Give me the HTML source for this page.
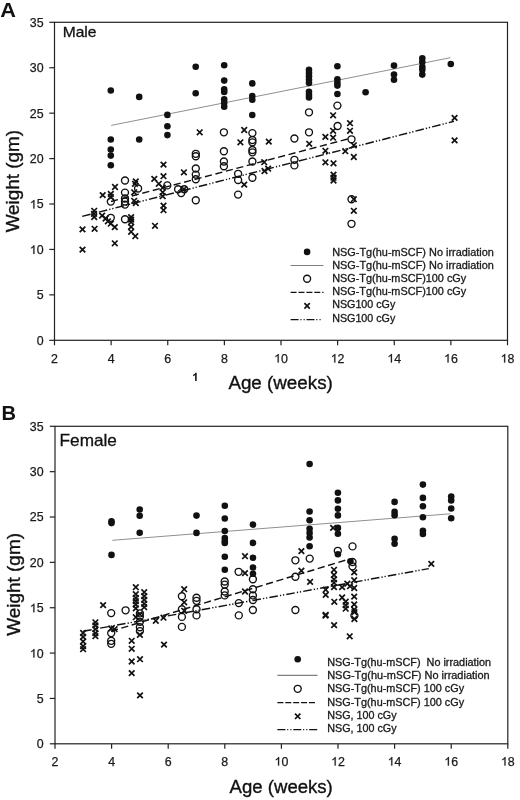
<!DOCTYPE html>
<html><head><meta charset="utf-8"><title>Weight vs Age</title><style>
html,body{margin:0;padding:0;background:#fff;}
body{width:520px;height:800px;overflow:hidden;}
svg{display:block;will-change:transform;}
text{font-family:"Liberation Sans",sans-serif;fill:#1a1a1a;}
.tk{font-size:12.4px;stroke:#1a1a1a;stroke-width:0.25px;}
.tkp{fill:#1a1a1a;stroke:#1a1a1a;stroke-width:40px;}
.lt{font-size:20px;font-weight:bold;fill:#111;}
.sx{font-size:15px;fill:#111;stroke:#111;stroke-width:0.3px;}
.al{font-size:18.8px;fill:#111;stroke:#111;stroke-width:0.35px;}
.lg{font-size:10.2px;stroke:#1a1a1a;stroke-width:0.3px;}
.one{font-size:11.5px;font-weight:bold;fill:#111;}
</style></head><body>
<svg width="520" height="800" viewBox="0 0 520 800">
<rect x="54.5" y="22.3" width="453.0" height="318.0" fill="none" stroke="#222" stroke-width="1.2"/>
<line x1="49.3" y1="340.30" x2="54.5" y2="340.30" stroke="#222" stroke-width="1.2"/>
<text class="tk" x="36.70" y="344.75">0</text>
<line x1="49.3" y1="294.87" x2="54.5" y2="294.87" stroke="#222" stroke-width="1.2"/>
<text class="tk" x="36.70" y="299.32">5</text>
<line x1="49.3" y1="249.44" x2="54.5" y2="249.44" stroke="#222" stroke-width="1.2"/>
<path d="M763 0H583V1147Q518 1085 412 1023T223 930V1104Q374 1175 487 1276T647 1472H763Z" transform="translate(29.81 253.89) scale(0.00605 -0.00580)" class="tkp"/>
<text class="tk" x="36.70" y="253.89">0</text>
<line x1="49.3" y1="204.01" x2="54.5" y2="204.01" stroke="#222" stroke-width="1.2"/>
<path d="M763 0H583V1147Q518 1085 412 1023T223 930V1104Q374 1175 487 1276T647 1472H763Z" transform="translate(29.81 208.46) scale(0.00605 -0.00580)" class="tkp"/>
<text class="tk" x="36.70" y="208.46">5</text>
<line x1="49.3" y1="158.59" x2="54.5" y2="158.59" stroke="#222" stroke-width="1.2"/>
<text class="tk" x="29.81" y="163.04">2</text>
<text class="tk" x="36.70" y="163.04">0</text>
<line x1="49.3" y1="113.16" x2="54.5" y2="113.16" stroke="#222" stroke-width="1.2"/>
<text class="tk" x="29.81" y="117.61">2</text>
<text class="tk" x="36.70" y="117.61">5</text>
<line x1="49.3" y1="67.73" x2="54.5" y2="67.73" stroke="#222" stroke-width="1.2"/>
<text class="tk" x="29.81" y="72.18">3</text>
<text class="tk" x="36.70" y="72.18">0</text>
<line x1="49.3" y1="22.30" x2="54.5" y2="22.30" stroke="#222" stroke-width="1.2"/>
<text class="tk" x="29.81" y="26.75">3</text>
<text class="tk" x="36.70" y="26.75">5</text>
<line x1="54.50" y1="340.3" x2="54.50" y2="345.3" stroke="#222" stroke-width="1.2"/>
<text class="tk" x="51.05" y="362.50">2</text>
<line x1="111.12" y1="340.3" x2="111.12" y2="345.3" stroke="#222" stroke-width="1.2"/>
<text class="tk" x="107.68" y="362.50">4</text>
<line x1="167.75" y1="340.3" x2="167.75" y2="345.3" stroke="#222" stroke-width="1.2"/>
<text class="tk" x="164.30" y="362.50">6</text>
<line x1="224.38" y1="340.3" x2="224.38" y2="345.3" stroke="#222" stroke-width="1.2"/>
<text class="tk" x="220.93" y="362.50">8</text>
<line x1="281.00" y1="340.3" x2="281.00" y2="345.3" stroke="#222" stroke-width="1.2"/>
<path d="M763 0H583V1147Q518 1085 412 1023T223 930V1104Q374 1175 487 1276T647 1472H763Z" transform="translate(274.10 362.50) scale(0.00605 -0.00580)" class="tkp"/>
<text class="tk" x="281.00" y="362.50">0</text>
<line x1="337.62" y1="340.3" x2="337.62" y2="345.3" stroke="#222" stroke-width="1.2"/>
<path d="M763 0H583V1147Q518 1085 412 1023T223 930V1104Q374 1175 487 1276T647 1472H763Z" transform="translate(330.73 362.50) scale(0.00605 -0.00580)" class="tkp"/>
<text class="tk" x="337.62" y="362.50">2</text>
<line x1="394.25" y1="340.3" x2="394.25" y2="345.3" stroke="#222" stroke-width="1.2"/>
<path d="M763 0H583V1147Q518 1085 412 1023T223 930V1104Q374 1175 487 1276T647 1472H763Z" transform="translate(387.35 362.50) scale(0.00605 -0.00580)" class="tkp"/>
<text class="tk" x="394.25" y="362.50">4</text>
<line x1="450.88" y1="340.3" x2="450.88" y2="345.3" stroke="#222" stroke-width="1.2"/>
<path d="M763 0H583V1147Q518 1085 412 1023T223 930V1104Q374 1175 487 1276T647 1472H763Z" transform="translate(443.98 362.50) scale(0.00605 -0.00580)" class="tkp"/>
<text class="tk" x="450.88" y="362.50">6</text>
<line x1="507.50" y1="340.3" x2="507.50" y2="345.3" stroke="#222" stroke-width="1.2"/>
<path d="M763 0H583V1147Q518 1085 412 1023T223 930V1104Q374 1175 487 1276T647 1472H763Z" transform="translate(500.60 362.50) scale(0.00605 -0.00580)" class="tkp"/>
<text class="tk" x="507.50" y="362.50">8</text>
<text id="Alet" class="lt" textLength="15.70" lengthAdjust="spacingAndGlyphs" x="0.20" y="17.10" xml:space="preserve">A</text>
<text id="Asex" class="sx" textLength="33.79" lengthAdjust="spacingAndGlyphs" x="62.70" y="37.00" xml:space="preserve">Male</text>
<text id="Aylab" class="al" text-anchor="middle" textLength="102.35" lengthAdjust="spacingAndGlyphs" transform="translate(18.60 181.20) rotate(-90)" xml:space="preserve">Weight (gm)</text>
<text id="Axlab" class="al" textLength="104.42" lengthAdjust="spacingAndGlyphs" x="228.40" y="388.80" xml:space="preserve">Age (weeks)</text>
<path d="M856 0H575V1059Q421 915 212 846V1101Q322 1137 451 1237T628 1469H856Z" transform="translate(191.9 380.9) scale(0.00558 -0.00558)" fill="#111"/>
<line x1="111.2" y1="125.4" x2="450.4" y2="57.7" stroke="#8f8f8f" stroke-width="1.0"/>
<line x1="111.0" y1="201.5" x2="348.1" y2="138.9" stroke="#111" stroke-width="1.45" stroke-dasharray="7.2 3.6"/>
<line x1="82.2" y1="216.4" x2="454.0" y2="121.3" stroke="#111" stroke-width="1.45" stroke-dasharray="8.6 2.1 1.3 1.8 1.3 2.1"/>
<circle cx="110.8" cy="90.5" r="3.3" fill="#111"/>
<circle cx="110.8" cy="139.5" r="3.3" fill="#111"/>
<circle cx="110.8" cy="149.5" r="3.3" fill="#111"/>
<circle cx="110.8" cy="155.6" r="3.3" fill="#111"/>
<circle cx="110.8" cy="165.2" r="3.3" fill="#111"/>
<circle cx="139.2" cy="96.9" r="3.3" fill="#111"/>
<circle cx="139.2" cy="139.5" r="3.3" fill="#111"/>
<circle cx="167.4" cy="114.9" r="3.3" fill="#111"/>
<circle cx="167.4" cy="126.2" r="3.3" fill="#111"/>
<circle cx="167.4" cy="135.1" r="3.3" fill="#111"/>
<circle cx="195.7" cy="66.8" r="3.3" fill="#111"/>
<circle cx="195.7" cy="93.2" r="3.3" fill="#111"/>
<circle cx="224.2" cy="65.2" r="3.3" fill="#111"/>
<circle cx="224.2" cy="80.6" r="3.3" fill="#111"/>
<circle cx="224.2" cy="89.4" r="3.3" fill="#111"/>
<circle cx="224.2" cy="91.9" r="3.3" fill="#111"/>
<circle cx="224.2" cy="99.4" r="3.3" fill="#111"/>
<circle cx="224.2" cy="102.9" r="3.3" fill="#111"/>
<circle cx="224.2" cy="106.7" r="3.3" fill="#111"/>
<circle cx="252.3" cy="83.4" r="3.3" fill="#111"/>
<circle cx="252.3" cy="96.0" r="3.3" fill="#111"/>
<circle cx="252.3" cy="99.8" r="3.3" fill="#111"/>
<circle cx="252.3" cy="115.0" r="3.3" fill="#111"/>
<circle cx="309.0" cy="69.8" r="3.3" fill="#111"/>
<circle cx="309.0" cy="72.9" r="3.3" fill="#111"/>
<circle cx="309.0" cy="76.3" r="3.3" fill="#111"/>
<circle cx="309.0" cy="79.8" r="3.3" fill="#111"/>
<circle cx="309.0" cy="83.0" r="3.3" fill="#111"/>
<circle cx="309.0" cy="91.7" r="3.3" fill="#111"/>
<circle cx="309.0" cy="94.8" r="3.3" fill="#111"/>
<circle cx="309.0" cy="97.5" r="3.3" fill="#111"/>
<circle cx="337.4" cy="66.2" r="3.3" fill="#111"/>
<circle cx="337.4" cy="79.2" r="3.3" fill="#111"/>
<circle cx="337.4" cy="82.7" r="3.3" fill="#111"/>
<circle cx="337.4" cy="85.6" r="3.3" fill="#111"/>
<circle cx="337.4" cy="94.0" r="3.3" fill="#111"/>
<circle cx="365.6" cy="92.3" r="3.3" fill="#111"/>
<circle cx="394.0" cy="65.6" r="3.3" fill="#111"/>
<circle cx="394.0" cy="74.6" r="3.3" fill="#111"/>
<circle cx="394.0" cy="79.8" r="3.3" fill="#111"/>
<circle cx="422.3" cy="58.3" r="3.3" fill="#111"/>
<circle cx="422.3" cy="62.1" r="3.3" fill="#111"/>
<circle cx="422.3" cy="66.9" r="3.3" fill="#111"/>
<circle cx="422.3" cy="69.8" r="3.3" fill="#111"/>
<circle cx="422.3" cy="74.6" r="3.3" fill="#111"/>
<circle cx="450.8" cy="64.0" r="3.3" fill="#111"/>
<circle cx="110.8" cy="201.6" r="3.5" fill="none" stroke="#111" stroke-width="1.35"/>
<circle cx="110.8" cy="217.8" r="3.5" fill="none" stroke="#111" stroke-width="1.35"/>
<circle cx="125.0" cy="180.5" r="3.5" fill="none" stroke="#111" stroke-width="1.35"/>
<circle cx="125.0" cy="192.6" r="3.5" fill="none" stroke="#111" stroke-width="1.35"/>
<circle cx="125.0" cy="198.5" r="3.5" fill="none" stroke="#111" stroke-width="1.35"/>
<circle cx="125.0" cy="201.5" r="3.5" fill="none" stroke="#111" stroke-width="1.35"/>
<circle cx="125.0" cy="204.6" r="3.5" fill="none" stroke="#111" stroke-width="1.35"/>
<circle cx="125.0" cy="219.2" r="3.5" fill="none" stroke="#111" stroke-width="1.35"/>
<circle cx="138.1" cy="188.5" r="3.5" fill="none" stroke="#111" stroke-width="1.35"/>
<circle cx="167.3" cy="185.4" r="3.5" fill="none" stroke="#111" stroke-width="1.35"/>
<circle cx="178.1" cy="189.2" r="3.5" fill="none" stroke="#111" stroke-width="1.35"/>
<circle cx="181.2" cy="193.1" r="3.5" fill="none" stroke="#111" stroke-width="1.35"/>
<circle cx="184.2" cy="189.2" r="3.5" fill="none" stroke="#111" stroke-width="1.35"/>
<circle cx="195.8" cy="153.8" r="3.5" fill="none" stroke="#111" stroke-width="1.35"/>
<circle cx="195.8" cy="156.2" r="3.5" fill="none" stroke="#111" stroke-width="1.35"/>
<circle cx="195.8" cy="168.5" r="3.5" fill="none" stroke="#111" stroke-width="1.35"/>
<circle cx="195.8" cy="174.6" r="3.5" fill="none" stroke="#111" stroke-width="1.35"/>
<circle cx="195.8" cy="179.2" r="3.5" fill="none" stroke="#111" stroke-width="1.35"/>
<circle cx="195.8" cy="200.2" r="3.5" fill="none" stroke="#111" stroke-width="1.35"/>
<circle cx="223.9" cy="132.3" r="3.5" fill="none" stroke="#111" stroke-width="1.35"/>
<circle cx="223.9" cy="151.2" r="3.5" fill="none" stroke="#111" stroke-width="1.35"/>
<circle cx="223.9" cy="161.5" r="3.5" fill="none" stroke="#111" stroke-width="1.35"/>
<circle cx="223.9" cy="166.2" r="3.5" fill="none" stroke="#111" stroke-width="1.35"/>
<circle cx="238.1" cy="173.8" r="3.5" fill="none" stroke="#111" stroke-width="1.35"/>
<circle cx="238.1" cy="180.0" r="3.5" fill="none" stroke="#111" stroke-width="1.35"/>
<circle cx="238.1" cy="194.6" r="3.5" fill="none" stroke="#111" stroke-width="1.35"/>
<circle cx="252.4" cy="133.1" r="3.5" fill="none" stroke="#111" stroke-width="1.35"/>
<circle cx="252.4" cy="140.0" r="3.5" fill="none" stroke="#111" stroke-width="1.35"/>
<circle cx="252.4" cy="142.3" r="3.5" fill="none" stroke="#111" stroke-width="1.35"/>
<circle cx="252.4" cy="150.0" r="3.5" fill="none" stroke="#111" stroke-width="1.35"/>
<circle cx="252.4" cy="152.3" r="3.5" fill="none" stroke="#111" stroke-width="1.35"/>
<circle cx="252.4" cy="161.5" r="3.5" fill="none" stroke="#111" stroke-width="1.35"/>
<circle cx="252.4" cy="177.7" r="3.5" fill="none" stroke="#111" stroke-width="1.35"/>
<circle cx="294.4" cy="138.5" r="3.5" fill="none" stroke="#111" stroke-width="1.35"/>
<circle cx="294.4" cy="159.8" r="3.5" fill="none" stroke="#111" stroke-width="1.35"/>
<circle cx="294.4" cy="165.4" r="3.5" fill="none" stroke="#111" stroke-width="1.35"/>
<circle cx="309.0" cy="112.3" r="3.5" fill="none" stroke="#111" stroke-width="1.35"/>
<circle cx="309.0" cy="132.3" r="3.5" fill="none" stroke="#111" stroke-width="1.35"/>
<circle cx="337.4" cy="105.6" r="3.5" fill="none" stroke="#111" stroke-width="1.35"/>
<circle cx="337.6" cy="126.0" r="3.5" fill="none" stroke="#111" stroke-width="1.35"/>
<circle cx="351.5" cy="139.3" r="3.5" fill="none" stroke="#111" stroke-width="1.35"/>
<circle cx="351.5" cy="199.2" r="3.5" fill="none" stroke="#111" stroke-width="1.35"/>
<circle cx="351.5" cy="223.8" r="3.5" fill="none" stroke="#111" stroke-width="1.35"/>
<path d="M79.7 226.6L85.3 232.2M79.7 232.2L85.3 226.6" stroke="#111" stroke-width="1.7" fill="none"/>
<path d="M79.7 246.8L85.3 252.4M79.7 252.4L85.3 246.8" stroke="#111" stroke-width="1.7" fill="none"/>
<path d="M91.4 208.0L97.0 213.6M91.4 213.6L97.0 208.0" stroke="#111" stroke-width="1.7" fill="none"/>
<path d="M91.2 211.0L96.8 216.6M91.2 216.6L96.8 211.0" stroke="#111" stroke-width="1.7" fill="none"/>
<path d="M91.4 214.2L97.0 219.8M91.4 219.8L97.0 214.2" stroke="#111" stroke-width="1.7" fill="none"/>
<path d="M91.8 226.0L97.4 231.6M91.8 231.6L97.4 226.0" stroke="#111" stroke-width="1.7" fill="none"/>
<path d="M99.9 192.3L105.5 197.9M99.9 197.9L105.5 192.3" stroke="#111" stroke-width="1.7" fill="none"/>
<path d="M99.3 212.8L104.9 218.4M99.3 218.4L104.9 212.8" stroke="#111" stroke-width="1.7" fill="none"/>
<path d="M102.8 215.7L108.4 221.3M102.8 221.3L108.4 215.7" stroke="#111" stroke-width="1.7" fill="none"/>
<path d="M105.1 218.5L110.7 224.1M105.1 224.1L110.7 218.5" stroke="#111" stroke-width="1.7" fill="none"/>
<path d="M108.0 220.9L113.6 226.5M108.0 226.5L113.6 220.9" stroke="#111" stroke-width="1.7" fill="none"/>
<path d="M108.0 191.2L113.6 196.8M108.0 196.8L113.6 191.2" stroke="#111" stroke-width="1.7" fill="none"/>
<path d="M108.0 194.2L113.6 199.8M108.0 199.8L113.6 194.2" stroke="#111" stroke-width="1.7" fill="none"/>
<path d="M112.2 184.2L117.8 189.8M112.2 189.8L117.8 184.2" stroke="#111" stroke-width="1.7" fill="none"/>
<path d="M112.0 224.3L117.6 229.9M112.0 229.9L117.6 224.3" stroke="#111" stroke-width="1.7" fill="none"/>
<path d="M112.0 240.5L117.6 246.1M112.0 246.1L117.6 240.5" stroke="#111" stroke-width="1.7" fill="none"/>
<path d="M128.3 214.3L133.9 219.9M128.3 219.9L133.9 214.3" stroke="#111" stroke-width="1.7" fill="none"/>
<path d="M128.3 216.8L133.9 222.4M128.3 222.4L133.9 216.8" stroke="#111" stroke-width="1.7" fill="none"/>
<path d="M128.3 219.4L133.9 225.0M128.3 225.0L133.9 219.4" stroke="#111" stroke-width="1.7" fill="none"/>
<path d="M128.3 224.1L133.9 229.7M128.3 229.7L133.9 224.1" stroke="#111" stroke-width="1.7" fill="none"/>
<path d="M128.3 229.0L133.9 234.6M128.3 234.6L133.9 229.0" stroke="#111" stroke-width="1.7" fill="none"/>
<path d="M132.5 233.4L138.1 239.0M132.5 239.0L138.1 233.4" stroke="#111" stroke-width="1.7" fill="none"/>
<path d="M133.0 178.7L138.6 184.3M133.0 184.3L138.6 178.7" stroke="#111" stroke-width="1.7" fill="none"/>
<path d="M132.2 181.0L137.8 186.6M132.2 186.6L137.8 181.0" stroke="#111" stroke-width="1.7" fill="none"/>
<path d="M131.4 189.5L137.0 195.1M131.4 195.1L137.0 189.5" stroke="#111" stroke-width="1.7" fill="none"/>
<path d="M131.4 198.0L137.0 203.6M131.4 203.6L137.0 198.0" stroke="#111" stroke-width="1.7" fill="none"/>
<path d="M133.0 200.2L138.6 205.8M133.0 205.8L138.6 200.2" stroke="#111" stroke-width="1.7" fill="none"/>
<path d="M151.5 176.1L157.1 181.7M151.5 181.7L157.1 176.1" stroke="#111" stroke-width="1.7" fill="none"/>
<path d="M152.2 223.0L157.8 228.6M152.2 228.6L157.8 223.0" stroke="#111" stroke-width="1.7" fill="none"/>
<path d="M156.0 181.0L161.6 186.6M156.0 186.6L161.6 181.0" stroke="#111" stroke-width="1.7" fill="none"/>
<path d="M159.9 184.9L165.5 190.5M159.9 190.5L165.5 184.9" stroke="#111" stroke-width="1.7" fill="none"/>
<path d="M159.9 189.5L165.5 195.1M159.9 195.1L165.5 189.5" stroke="#111" stroke-width="1.7" fill="none"/>
<path d="M159.9 193.4L165.5 199.0M159.9 199.0L165.5 193.4" stroke="#111" stroke-width="1.7" fill="none"/>
<path d="M160.7 161.8L166.3 167.4M160.7 167.4L166.3 161.8" stroke="#111" stroke-width="1.7" fill="none"/>
<path d="M160.7 173.4L166.3 179.0M160.7 179.0L166.3 173.4" stroke="#111" stroke-width="1.7" fill="none"/>
<path d="M160.7 202.8L166.3 208.4M160.7 208.4L166.3 202.8" stroke="#111" stroke-width="1.7" fill="none"/>
<path d="M160.7 207.4L166.3 213.0M160.7 213.0L166.3 207.4" stroke="#111" stroke-width="1.7" fill="none"/>
<path d="M181.1 169.5L186.7 175.1M181.1 175.1L186.7 169.5" stroke="#111" stroke-width="1.7" fill="none"/>
<path d="M181.2 186.4L186.8 192.0M181.2 192.0L186.8 186.4" stroke="#111" stroke-width="1.7" fill="none"/>
<path d="M196.9 129.5L202.5 135.1M196.9 135.1L202.5 129.5" stroke="#111" stroke-width="1.7" fill="none"/>
<path d="M237.6 139.5L243.2 145.1M237.6 145.1L243.2 139.5" stroke="#111" stroke-width="1.7" fill="none"/>
<path d="M241.4 127.2L247.0 132.8M241.4 132.8L247.0 127.2" stroke="#111" stroke-width="1.7" fill="none"/>
<path d="M241.4 181.8L247.0 187.4M241.4 187.4L247.0 181.8" stroke="#111" stroke-width="1.7" fill="none"/>
<path d="M261.4 159.4L267.0 165.0M261.4 165.0L267.0 159.4" stroke="#111" stroke-width="1.7" fill="none"/>
<path d="M265.3 165.8L270.9 171.4M265.3 171.4L270.9 165.8" stroke="#111" stroke-width="1.7" fill="none"/>
<path d="M261.7 168.2L267.3 173.8M261.7 173.8L267.3 168.2" stroke="#111" stroke-width="1.7" fill="none"/>
<path d="M266.0 138.8L271.6 144.4M266.0 144.4L271.6 138.8" stroke="#111" stroke-width="1.7" fill="none"/>
<path d="M306.4 141.0L312.0 146.6M306.4 146.6L312.0 141.0" stroke="#111" stroke-width="1.7" fill="none"/>
<path d="M322.6 134.1L328.2 139.7M322.6 139.7L328.2 134.1" stroke="#111" stroke-width="1.7" fill="none"/>
<path d="M322.6 148.0L328.2 153.6M322.6 153.6L328.2 148.0" stroke="#111" stroke-width="1.7" fill="none"/>
<path d="M322.6 159.5L328.2 165.1M322.6 165.1L328.2 159.5" stroke="#111" stroke-width="1.7" fill="none"/>
<path d="M330.3 112.5L335.9 118.1M330.3 118.1L335.9 112.5" stroke="#111" stroke-width="1.7" fill="none"/>
<path d="M330.3 128.0L335.9 133.6M330.3 133.6L335.9 128.0" stroke="#111" stroke-width="1.7" fill="none"/>
<path d="M330.3 134.9L335.9 140.5M330.3 140.5L335.9 134.9" stroke="#111" stroke-width="1.7" fill="none"/>
<path d="M330.7 160.5L336.3 166.1M330.7 166.1L336.3 160.5" stroke="#111" stroke-width="1.7" fill="none"/>
<path d="M330.7 171.8L336.3 177.4M330.7 177.4L336.3 171.8" stroke="#111" stroke-width="1.7" fill="none"/>
<path d="M330.7 174.9L336.3 180.5M330.7 180.5L336.3 174.9" stroke="#111" stroke-width="1.7" fill="none"/>
<path d="M330.7 177.7L336.3 183.3M330.7 183.3L336.3 177.7" stroke="#111" stroke-width="1.7" fill="none"/>
<path d="M342.5 148.4L348.1 154.0M342.5 154.0L348.1 148.4" stroke="#111" stroke-width="1.7" fill="none"/>
<path d="M347.2 120.4L352.8 126.0M347.2 126.0L352.8 120.4" stroke="#111" stroke-width="1.7" fill="none"/>
<path d="M347.2 128.0L352.8 133.6M347.2 133.6L352.8 128.0" stroke="#111" stroke-width="1.7" fill="none"/>
<path d="M351.0 142.5L356.6 148.1M351.0 148.1L356.6 142.5" stroke="#111" stroke-width="1.7" fill="none"/>
<path d="M351.0 154.2L356.6 159.8M351.0 159.8L356.6 154.2" stroke="#111" stroke-width="1.7" fill="none"/>
<path d="M351.0 196.4L356.6 202.0M351.0 202.0L356.6 196.4" stroke="#111" stroke-width="1.7" fill="none"/>
<path d="M351.0 208.0L356.6 213.6M351.0 213.6L356.6 208.0" stroke="#111" stroke-width="1.7" fill="none"/>
<path d="M451.8 115.1L457.4 120.7M451.8 120.7L457.4 115.1" stroke="#111" stroke-width="1.7" fill="none"/>
<path d="M451.8 137.6L457.4 143.2M451.8 143.2L457.4 137.6" stroke="#111" stroke-width="1.7" fill="none"/>
<circle cx="307.1" cy="251.9" r="3.3" fill="#111"/>
<line x1="290.6" y1="265.5" x2="323.5" y2="265.5" stroke="#808080" stroke-width="1.1"/>
<circle cx="307.1" cy="278.7" r="3.5" fill="none" stroke="#111" stroke-width="1.35"/>
<line x1="290.6" y1="292.4" x2="323.5" y2="292.4" stroke="#111" stroke-width="1.3" stroke-dasharray="6.0 1.9"/>
<path d="M304.4 303.2L309.8 308.6M304.4 308.6L309.8 303.2" stroke="#111" stroke-width="1.7" fill="none"/>
<line x1="290.6" y1="319.6" x2="320.6" y2="319.6" stroke="#111" stroke-width="1.3" stroke-dasharray="8.0 1.8 1.1 2.1 1.1 1.8"/>
<text id="AL0" class="lg" textLength="161.64" lengthAdjust="spacingAndGlyphs" x="332.20" y="255.80" xml:space="preserve">NSG-Tg(hu-mSCF) No irradiation</text>
<text id="AL1" class="lg" textLength="161.64" lengthAdjust="spacingAndGlyphs" x="332.20" y="268.95" xml:space="preserve">NSG-Tg(hu-mSCF) No irradiation</text>
<text id="AL2" class="lg" textLength="134.03" lengthAdjust="spacingAndGlyphs" x="332.20" y="282.10" xml:space="preserve">NSG-Tg(hu-mSCF)100 cGy</text>
<text id="AL3" class="lg" textLength="134.03" lengthAdjust="spacingAndGlyphs" x="332.20" y="295.25" xml:space="preserve">NSG-Tg(hu-mSCF)100 cGy</text>
<text id="AL4" class="lg" textLength="63.11" lengthAdjust="spacingAndGlyphs" x="332.20" y="308.40" xml:space="preserve">NSG100 cGy</text>
<text id="AL5" class="lg" textLength="63.11" lengthAdjust="spacingAndGlyphs" x="332.20" y="321.55" xml:space="preserve">NSG100 cGy</text>
<rect x="55.0" y="426.3" width="452.8" height="317.49999999999994" fill="none" stroke="#222" stroke-width="1.2"/>
<line x1="49.8" y1="743.80" x2="55.0" y2="743.80" stroke="#222" stroke-width="1.2"/>
<text class="tk" x="36.70" y="748.25">0</text>
<line x1="49.8" y1="698.44" x2="55.0" y2="698.44" stroke="#222" stroke-width="1.2"/>
<text class="tk" x="36.70" y="702.89">5</text>
<line x1="49.8" y1="653.09" x2="55.0" y2="653.09" stroke="#222" stroke-width="1.2"/>
<path d="M763 0H583V1147Q518 1085 412 1023T223 930V1104Q374 1175 487 1276T647 1472H763Z" transform="translate(29.81 657.54) scale(0.00605 -0.00580)" class="tkp"/>
<text class="tk" x="36.70" y="657.54">0</text>
<line x1="49.8" y1="607.73" x2="55.0" y2="607.73" stroke="#222" stroke-width="1.2"/>
<path d="M763 0H583V1147Q518 1085 412 1023T223 930V1104Q374 1175 487 1276T647 1472H763Z" transform="translate(29.81 612.18) scale(0.00605 -0.00580)" class="tkp"/>
<text class="tk" x="36.70" y="612.18">5</text>
<line x1="49.8" y1="562.37" x2="55.0" y2="562.37" stroke="#222" stroke-width="1.2"/>
<text class="tk" x="29.81" y="566.82">2</text>
<text class="tk" x="36.70" y="566.82">0</text>
<line x1="49.8" y1="517.01" x2="55.0" y2="517.01" stroke="#222" stroke-width="1.2"/>
<text class="tk" x="29.81" y="521.46">2</text>
<text class="tk" x="36.70" y="521.46">5</text>
<line x1="49.8" y1="471.66" x2="55.0" y2="471.66" stroke="#222" stroke-width="1.2"/>
<text class="tk" x="29.81" y="476.11">3</text>
<text class="tk" x="36.70" y="476.11">0</text>
<line x1="49.8" y1="426.30" x2="55.0" y2="426.30" stroke="#222" stroke-width="1.2"/>
<text class="tk" x="29.81" y="430.75">3</text>
<text class="tk" x="36.70" y="430.75">5</text>
<line x1="55.00" y1="743.8" x2="55.00" y2="748.8" stroke="#222" stroke-width="1.2"/>
<text class="tk" x="51.55" y="765.60">2</text>
<line x1="111.60" y1="743.8" x2="111.60" y2="748.8" stroke="#222" stroke-width="1.2"/>
<text class="tk" x="108.15" y="765.60">4</text>
<line x1="168.20" y1="743.8" x2="168.20" y2="748.8" stroke="#222" stroke-width="1.2"/>
<text class="tk" x="164.75" y="765.60">6</text>
<line x1="224.80" y1="743.8" x2="224.80" y2="748.8" stroke="#222" stroke-width="1.2"/>
<text class="tk" x="221.35" y="765.60">8</text>
<line x1="281.40" y1="743.8" x2="281.40" y2="748.8" stroke="#222" stroke-width="1.2"/>
<path d="M763 0H583V1147Q518 1085 412 1023T223 930V1104Q374 1175 487 1276T647 1472H763Z" transform="translate(274.50 765.60) scale(0.00605 -0.00580)" class="tkp"/>
<text class="tk" x="281.40" y="765.60">0</text>
<line x1="338.00" y1="743.8" x2="338.00" y2="748.8" stroke="#222" stroke-width="1.2"/>
<path d="M763 0H583V1147Q518 1085 412 1023T223 930V1104Q374 1175 487 1276T647 1472H763Z" transform="translate(331.10 765.60) scale(0.00605 -0.00580)" class="tkp"/>
<text class="tk" x="338.00" y="765.60">2</text>
<line x1="394.60" y1="743.8" x2="394.60" y2="748.8" stroke="#222" stroke-width="1.2"/>
<path d="M763 0H583V1147Q518 1085 412 1023T223 930V1104Q374 1175 487 1276T647 1472H763Z" transform="translate(387.70 765.60) scale(0.00605 -0.00580)" class="tkp"/>
<text class="tk" x="394.60" y="765.60">4</text>
<line x1="451.20" y1="743.8" x2="451.20" y2="748.8" stroke="#222" stroke-width="1.2"/>
<path d="M763 0H583V1147Q518 1085 412 1023T223 930V1104Q374 1175 487 1276T647 1472H763Z" transform="translate(444.30 765.60) scale(0.00605 -0.00580)" class="tkp"/>
<text class="tk" x="451.20" y="765.60">6</text>
<line x1="507.80" y1="743.8" x2="507.80" y2="748.8" stroke="#222" stroke-width="1.2"/>
<path d="M763 0H583V1147Q518 1085 412 1023T223 930V1104Q374 1175 487 1276T647 1472H763Z" transform="translate(500.90 765.60) scale(0.00605 -0.00580)" class="tkp"/>
<text class="tk" x="507.80" y="765.60">8</text>
<text id="Blet" class="lt" textLength="14.55" lengthAdjust="spacingAndGlyphs" x="1.40" y="420.00" xml:space="preserve">B</text>
<text id="Bsex" class="sx" style="font-size:16.5px" textLength="57.34" lengthAdjust="spacingAndGlyphs" x="59.60" y="446.20" xml:space="preserve">Female</text>
<text id="Bylab" class="al" text-anchor="middle" textLength="102.75" lengthAdjust="spacingAndGlyphs" transform="translate(19.80 584.40) rotate(-90)" xml:space="preserve">Weight (gm)</text>
<text id="Bxlab" class="al" textLength="103.20" lengthAdjust="spacingAndGlyphs" x="229.60" y="792.80" xml:space="preserve">Age (weeks)</text>
<line x1="112.3" y1="540.3" x2="450.4" y2="513.8" stroke="#8f8f8f" stroke-width="1.0"/>
<line x1="111.0" y1="631.3" x2="348.2" y2="559.4" stroke="#111" stroke-width="1.45" stroke-dasharray="7.2 3.6"/>
<line x1="83.2" y1="631.2" x2="428.8" y2="568.6" stroke="#111" stroke-width="1.45" stroke-dasharray="8.6 2.1 1.3 1.8 1.3 2.1"/>
<circle cx="111.5" cy="521.2" r="3.3" fill="#111"/>
<circle cx="111.5" cy="523.1" r="3.3" fill="#111"/>
<circle cx="111.5" cy="554.9" r="3.3" fill="#111"/>
<circle cx="139.7" cy="509.5" r="3.3" fill="#111"/>
<circle cx="139.7" cy="515.8" r="3.3" fill="#111"/>
<circle cx="139.7" cy="532.8" r="3.3" fill="#111"/>
<circle cx="196.5" cy="515.6" r="3.3" fill="#111"/>
<circle cx="196.5" cy="532.9" r="3.3" fill="#111"/>
<circle cx="224.8" cy="505.8" r="3.3" fill="#111"/>
<circle cx="224.8" cy="518.5" r="3.3" fill="#111"/>
<circle cx="224.8" cy="531.0" r="3.3" fill="#111"/>
<circle cx="224.8" cy="538.1" r="3.3" fill="#111"/>
<circle cx="224.8" cy="541.0" r="3.3" fill="#111"/>
<circle cx="224.8" cy="542.9" r="3.3" fill="#111"/>
<circle cx="224.8" cy="556.7" r="3.3" fill="#111"/>
<circle cx="224.8" cy="569.8" r="3.3" fill="#111"/>
<circle cx="253.0" cy="524.6" r="3.3" fill="#111"/>
<circle cx="253.0" cy="542.9" r="3.3" fill="#111"/>
<circle cx="253.0" cy="557.7" r="3.3" fill="#111"/>
<circle cx="253.0" cy="567.5" r="3.3" fill="#111"/>
<circle cx="253.0" cy="573.8" r="3.3" fill="#111"/>
<circle cx="309.6" cy="464.0" r="3.3" fill="#111"/>
<circle cx="309.6" cy="511.5" r="3.3" fill="#111"/>
<circle cx="309.6" cy="520.2" r="3.3" fill="#111"/>
<circle cx="309.6" cy="528.8" r="3.3" fill="#111"/>
<circle cx="309.6" cy="533.1" r="3.3" fill="#111"/>
<circle cx="309.6" cy="537.5" r="3.3" fill="#111"/>
<circle cx="309.6" cy="546.2" r="3.3" fill="#111"/>
<circle cx="337.9" cy="492.7" r="3.3" fill="#111"/>
<circle cx="337.9" cy="500.4" r="3.3" fill="#111"/>
<circle cx="337.9" cy="508.7" r="3.3" fill="#111"/>
<circle cx="337.9" cy="515.4" r="3.3" fill="#111"/>
<circle cx="337.9" cy="527.9" r="3.3" fill="#111"/>
<circle cx="337.9" cy="533.7" r="3.3" fill="#111"/>
<circle cx="337.9" cy="554.2" r="3.3" fill="#111"/>
<circle cx="350.4" cy="561.2" r="3.3" fill="#111"/>
<circle cx="394.6" cy="501.9" r="3.3" fill="#111"/>
<circle cx="394.6" cy="511.9" r="3.3" fill="#111"/>
<circle cx="394.6" cy="515.2" r="3.3" fill="#111"/>
<circle cx="394.6" cy="538.8" r="3.3" fill="#111"/>
<circle cx="394.6" cy="543.7" r="3.3" fill="#111"/>
<circle cx="422.9" cy="484.6" r="3.3" fill="#111"/>
<circle cx="422.9" cy="497.9" r="3.3" fill="#111"/>
<circle cx="422.9" cy="506.2" r="3.3" fill="#111"/>
<circle cx="422.9" cy="517.3" r="3.3" fill="#111"/>
<circle cx="422.9" cy="530.8" r="3.3" fill="#111"/>
<circle cx="422.9" cy="534.0" r="3.3" fill="#111"/>
<circle cx="451.2" cy="496.5" r="3.3" fill="#111"/>
<circle cx="451.2" cy="500.4" r="3.3" fill="#111"/>
<circle cx="451.2" cy="508.5" r="3.3" fill="#111"/>
<circle cx="451.2" cy="518.3" r="3.3" fill="#111"/>
<circle cx="111.2" cy="613.1" r="3.5" fill="none" stroke="#111" stroke-width="1.35"/>
<circle cx="111.2" cy="633.1" r="3.5" fill="none" stroke="#111" stroke-width="1.35"/>
<circle cx="111.2" cy="640.8" r="3.5" fill="none" stroke="#111" stroke-width="1.35"/>
<circle cx="111.2" cy="643.8" r="3.5" fill="none" stroke="#111" stroke-width="1.35"/>
<circle cx="125.6" cy="610.3" r="3.5" fill="none" stroke="#111" stroke-width="1.35"/>
<circle cx="139.9" cy="613.4" r="3.5" fill="none" stroke="#111" stroke-width="1.35"/>
<circle cx="139.9" cy="616.5" r="3.5" fill="none" stroke="#111" stroke-width="1.35"/>
<circle cx="139.9" cy="621.8" r="3.5" fill="none" stroke="#111" stroke-width="1.35"/>
<circle cx="139.9" cy="627.2" r="3.5" fill="none" stroke="#111" stroke-width="1.35"/>
<circle cx="139.9" cy="631.1" r="3.5" fill="none" stroke="#111" stroke-width="1.35"/>
<circle cx="181.9" cy="596.2" r="3.5" fill="none" stroke="#111" stroke-width="1.35"/>
<circle cx="181.9" cy="609.2" r="3.5" fill="none" stroke="#111" stroke-width="1.35"/>
<circle cx="181.9" cy="616.9" r="3.5" fill="none" stroke="#111" stroke-width="1.35"/>
<circle cx="181.9" cy="626.9" r="3.5" fill="none" stroke="#111" stroke-width="1.35"/>
<circle cx="196.5" cy="597.7" r="3.5" fill="none" stroke="#111" stroke-width="1.35"/>
<circle cx="196.5" cy="600.8" r="3.5" fill="none" stroke="#111" stroke-width="1.35"/>
<circle cx="196.5" cy="609.2" r="3.5" fill="none" stroke="#111" stroke-width="1.35"/>
<circle cx="196.5" cy="615.4" r="3.5" fill="none" stroke="#111" stroke-width="1.35"/>
<circle cx="224.7" cy="581.5" r="3.5" fill="none" stroke="#111" stroke-width="1.35"/>
<circle cx="224.7" cy="584.6" r="3.5" fill="none" stroke="#111" stroke-width="1.35"/>
<circle cx="224.7" cy="591.5" r="3.5" fill="none" stroke="#111" stroke-width="1.35"/>
<circle cx="224.7" cy="595.4" r="3.5" fill="none" stroke="#111" stroke-width="1.35"/>
<circle cx="238.6" cy="571.8" r="3.5" fill="none" stroke="#111" stroke-width="1.35"/>
<circle cx="238.8" cy="603.1" r="3.5" fill="none" stroke="#111" stroke-width="1.35"/>
<circle cx="238.8" cy="615.4" r="3.5" fill="none" stroke="#111" stroke-width="1.35"/>
<circle cx="252.9" cy="579.2" r="3.5" fill="none" stroke="#111" stroke-width="1.35"/>
<circle cx="252.9" cy="589.2" r="3.5" fill="none" stroke="#111" stroke-width="1.35"/>
<circle cx="252.9" cy="595.4" r="3.5" fill="none" stroke="#111" stroke-width="1.35"/>
<circle cx="252.9" cy="600.0" r="3.5" fill="none" stroke="#111" stroke-width="1.35"/>
<circle cx="252.9" cy="610.0" r="3.5" fill="none" stroke="#111" stroke-width="1.35"/>
<circle cx="295.4" cy="560.3" r="3.5" fill="none" stroke="#111" stroke-width="1.35"/>
<circle cx="295.4" cy="576.7" r="3.5" fill="none" stroke="#111" stroke-width="1.35"/>
<circle cx="295.4" cy="610.0" r="3.5" fill="none" stroke="#111" stroke-width="1.35"/>
<circle cx="309.7" cy="558.6" r="3.5" fill="none" stroke="#111" stroke-width="1.35"/>
<circle cx="337.8" cy="550.8" r="3.5" fill="none" stroke="#111" stroke-width="1.35"/>
<circle cx="352.5" cy="546.4" r="3.5" fill="none" stroke="#111" stroke-width="1.35"/>
<circle cx="352.5" cy="562.0" r="3.5" fill="none" stroke="#111" stroke-width="1.35"/>
<circle cx="352.5" cy="566.3" r="3.5" fill="none" stroke="#111" stroke-width="1.35"/>
<circle cx="354.4" cy="615.6" r="3.5" fill="none" stroke="#111" stroke-width="1.35"/>
<path d="M80.3 630.2L85.9 635.8M80.3 635.8L85.9 630.2" stroke="#111" stroke-width="1.7" fill="none"/>
<path d="M80.3 634.1L85.9 639.7M80.3 639.7L85.9 634.1" stroke="#111" stroke-width="1.7" fill="none"/>
<path d="M80.3 638.7L85.9 644.3M80.3 644.3L85.9 638.7" stroke="#111" stroke-width="1.7" fill="none"/>
<path d="M80.3 643.4L85.9 649.0M80.3 649.0L85.9 643.4" stroke="#111" stroke-width="1.7" fill="none"/>
<path d="M80.3 646.4L85.9 652.0M80.3 652.0L85.9 646.4" stroke="#111" stroke-width="1.7" fill="none"/>
<path d="M92.6 619.5L98.2 625.1M92.6 625.1L98.2 619.5" stroke="#111" stroke-width="1.7" fill="none"/>
<path d="M92.6 622.6L98.2 628.2M92.6 628.2L98.2 622.6" stroke="#111" stroke-width="1.7" fill="none"/>
<path d="M92.6 626.4L98.2 632.0M92.6 632.0L98.2 626.4" stroke="#111" stroke-width="1.7" fill="none"/>
<path d="M92.6 630.3L98.2 635.9M92.6 635.9L98.2 630.3" stroke="#111" stroke-width="1.7" fill="none"/>
<path d="M92.6 633.4L98.2 639.0M92.6 639.0L98.2 633.4" stroke="#111" stroke-width="1.7" fill="none"/>
<path d="M100.3 602.3L105.9 607.9M100.3 607.9L105.9 602.3" stroke="#111" stroke-width="1.7" fill="none"/>
<path d="M108.4 625.7L114.0 631.3M108.4 631.3L114.0 625.7" stroke="#111" stroke-width="1.7" fill="none"/>
<path d="M111.8 626.4L117.4 632.0M111.8 632.0L117.4 626.4" stroke="#111" stroke-width="1.7" fill="none"/>
<path d="M133.0 584.4L138.6 590.0M133.0 590.0L138.6 584.4" stroke="#111" stroke-width="1.7" fill="none"/>
<path d="M133.0 591.4L138.6 597.0M133.0 597.0L138.6 591.4" stroke="#111" stroke-width="1.7" fill="none"/>
<path d="M133.0 595.2L138.6 600.8M133.0 600.8L138.6 595.2" stroke="#111" stroke-width="1.7" fill="none"/>
<path d="M133.0 598.3L138.6 603.9M133.0 603.9L138.6 598.3" stroke="#111" stroke-width="1.7" fill="none"/>
<path d="M133.0 601.7L138.6 607.3M133.0 607.3L138.6 601.7" stroke="#111" stroke-width="1.7" fill="none"/>
<path d="M133.0 605.6L138.6 611.2M133.0 611.2L138.6 605.6" stroke="#111" stroke-width="1.7" fill="none"/>
<path d="M133.0 614.4L138.6 620.0M133.0 620.0L138.6 614.4" stroke="#111" stroke-width="1.7" fill="none"/>
<path d="M141.4 589.4L147.0 595.0M141.4 595.0L147.0 589.4" stroke="#111" stroke-width="1.7" fill="none"/>
<path d="M141.4 593.3L147.0 598.9M141.4 598.9L147.0 593.3" stroke="#111" stroke-width="1.7" fill="none"/>
<path d="M141.4 597.1L147.0 602.7M141.4 602.7L147.0 597.1" stroke="#111" stroke-width="1.7" fill="none"/>
<path d="M141.4 601.0L147.0 606.6M141.4 606.6L147.0 601.0" stroke="#111" stroke-width="1.7" fill="none"/>
<path d="M141.4 604.4L147.0 610.0M141.4 610.0L147.0 604.4" stroke="#111" stroke-width="1.7" fill="none"/>
<path d="M137.1 611.4L142.7 617.0M137.1 617.0L142.7 611.4" stroke="#111" stroke-width="1.7" fill="none"/>
<path d="M137.1 632.1L142.7 637.7M137.1 637.7L142.7 632.1" stroke="#111" stroke-width="1.7" fill="none"/>
<path d="M128.9 638.0L134.5 643.6M128.9 643.6L134.5 638.0" stroke="#111" stroke-width="1.7" fill="none"/>
<path d="M128.9 646.0L134.5 651.6M128.9 651.6L134.5 646.0" stroke="#111" stroke-width="1.7" fill="none"/>
<path d="M128.9 658.7L134.5 664.3M128.9 664.3L134.5 658.7" stroke="#111" stroke-width="1.7" fill="none"/>
<path d="M128.9 670.3L134.5 675.9M128.9 675.9L134.5 670.3" stroke="#111" stroke-width="1.7" fill="none"/>
<path d="M137.2 656.4L142.8 662.0M137.2 662.0L142.8 656.4" stroke="#111" stroke-width="1.7" fill="none"/>
<path d="M137.2 692.6L142.8 698.2M137.2 698.2L142.8 692.6" stroke="#111" stroke-width="1.7" fill="none"/>
<path d="M153.0 618.0L158.6 623.6M153.0 623.6L158.6 618.0" stroke="#111" stroke-width="1.7" fill="none"/>
<path d="M160.7 614.9L166.3 620.5M160.7 620.5L166.3 614.9" stroke="#111" stroke-width="1.7" fill="none"/>
<path d="M161.2 641.8L166.8 647.4M161.2 647.4L166.8 641.8" stroke="#111" stroke-width="1.7" fill="none"/>
<path d="M181.4 586.4L187.0 592.0M181.4 592.0L187.0 586.4" stroke="#111" stroke-width="1.7" fill="none"/>
<path d="M181.4 599.5L187.0 605.1M181.4 605.1L187.0 599.5" stroke="#111" stroke-width="1.7" fill="none"/>
<path d="M181.4 608.0L187.0 613.6M181.4 613.6L187.0 608.0" stroke="#111" stroke-width="1.7" fill="none"/>
<path d="M242.2 553.4L247.8 559.0M242.2 559.0L247.8 553.4" stroke="#111" stroke-width="1.7" fill="none"/>
<path d="M242.2 570.3L247.8 575.9M242.2 575.9L247.8 570.3" stroke="#111" stroke-width="1.7" fill="none"/>
<path d="M242.2 588.7L247.8 594.3M242.2 594.3L247.8 588.7" stroke="#111" stroke-width="1.7" fill="none"/>
<path d="M298.6 548.3L304.2 553.9M298.6 553.9L304.2 548.3" stroke="#111" stroke-width="1.7" fill="none"/>
<path d="M298.6 567.9L304.2 573.5M298.6 573.5L304.2 567.9" stroke="#111" stroke-width="1.7" fill="none"/>
<path d="M307.3 579.1L312.9 584.7M307.3 584.7L312.9 579.1" stroke="#111" stroke-width="1.7" fill="none"/>
<path d="M330.3 525.1L335.9 530.7M330.3 530.7L335.9 525.1" stroke="#111" stroke-width="1.7" fill="none"/>
<path d="M351.4 569.6L357.0 575.2M351.4 575.2L357.0 569.6" stroke="#111" stroke-width="1.7" fill="none"/>
<path d="M351.4 577.4L357.0 583.0M351.4 583.0L357.0 577.4" stroke="#111" stroke-width="1.7" fill="none"/>
<path d="M351.4 585.2L357.0 590.8M351.4 590.8L357.0 585.2" stroke="#111" stroke-width="1.7" fill="none"/>
<path d="M351.4 593.8L357.0 599.4M351.4 599.4L357.0 593.8" stroke="#111" stroke-width="1.7" fill="none"/>
<path d="M351.4 601.6L357.0 607.2M351.4 607.2L357.0 601.6" stroke="#111" stroke-width="1.7" fill="none"/>
<path d="M351.4 606.8L357.0 612.4M351.4 612.4L357.0 606.8" stroke="#111" stroke-width="1.7" fill="none"/>
<path d="M351.6 609.3L357.2 614.9M351.6 614.9L357.2 609.3" stroke="#111" stroke-width="1.7" fill="none"/>
<path d="M351.6 616.2L357.2 621.8M351.6 621.8L357.2 616.2" stroke="#111" stroke-width="1.7" fill="none"/>
<path d="M331.2 567.0L336.8 572.6M331.2 572.6L336.8 567.0" stroke="#111" stroke-width="1.7" fill="none"/>
<path d="M331.2 572.2L336.8 577.8M331.2 577.8L336.8 572.2" stroke="#111" stroke-width="1.7" fill="none"/>
<path d="M331.2 576.5L336.8 582.1M331.2 582.1L336.8 576.5" stroke="#111" stroke-width="1.7" fill="none"/>
<path d="M331.2 580.0L336.8 585.6M331.2 585.6L336.8 580.0" stroke="#111" stroke-width="1.7" fill="none"/>
<path d="M331.2 584.3L336.8 589.9M331.2 589.9L336.8 584.3" stroke="#111" stroke-width="1.7" fill="none"/>
<path d="M322.9 586.9L328.5 592.5M322.9 592.5L328.5 586.9" stroke="#111" stroke-width="1.7" fill="none"/>
<path d="M322.9 592.1L328.5 597.7M322.9 597.7L328.5 592.1" stroke="#111" stroke-width="1.7" fill="none"/>
<path d="M331.5 599.0L337.1 604.6M331.5 604.6L337.1 599.0" stroke="#111" stroke-width="1.7" fill="none"/>
<path d="M322.9 612.0L328.5 617.6M322.9 617.6L328.5 612.0" stroke="#111" stroke-width="1.7" fill="none"/>
<path d="M339.3 584.3L344.9 589.9M339.3 589.9L344.9 584.3" stroke="#111" stroke-width="1.7" fill="none"/>
<path d="M339.3 594.7L344.9 600.3M339.3 600.3L344.9 594.7" stroke="#111" stroke-width="1.7" fill="none"/>
<path d="M342.9 598.9L348.5 604.5M342.9 604.5L348.5 598.9" stroke="#111" stroke-width="1.7" fill="none"/>
<path d="M342.9 602.4L348.5 608.0M342.9 608.0L348.5 602.4" stroke="#111" stroke-width="1.7" fill="none"/>
<path d="M342.9 605.9L348.5 611.5M342.9 611.5L348.5 605.9" stroke="#111" stroke-width="1.7" fill="none"/>
<path d="M344.5 580.9L350.1 586.5M344.5 586.5L350.1 580.9" stroke="#111" stroke-width="1.7" fill="none"/>
<path d="M347.2 583.4L352.8 589.0M347.2 589.0L352.8 583.4" stroke="#111" stroke-width="1.7" fill="none"/>
<path d="M322.7 612.8L328.3 618.4M322.7 618.4L328.3 612.8" stroke="#111" stroke-width="1.7" fill="none"/>
<path d="M331.3 622.3L336.9 627.9M331.3 627.9L336.9 622.3" stroke="#111" stroke-width="1.7" fill="none"/>
<path d="M346.9 633.5L352.5 639.1M346.9 639.1L352.5 633.5" stroke="#111" stroke-width="1.7" fill="none"/>
<path d="M428.5 561.1L434.1 566.7M428.5 566.7L434.1 561.1" stroke="#111" stroke-width="1.7" fill="none"/>
<circle cx="297.7" cy="659.2" r="3.3" fill="#111"/>
<line x1="277.4" y1="675.4" x2="317.5" y2="675.4" stroke="#808080" stroke-width="1.1"/>
<circle cx="297.7" cy="688.8" r="3.5" fill="none" stroke="#111" stroke-width="1.35"/>
<line x1="277.4" y1="702.6" x2="315.3" y2="702.6" stroke="#111" stroke-width="1.3" stroke-dasharray="6.0 1.9"/>
<path d="M295.0 713.6L300.4 719.0M295.0 719.0L300.4 713.6" stroke="#111" stroke-width="1.7" fill="none"/>
<line x1="277.4" y1="729.6" x2="317.7" y2="729.6" stroke="#111" stroke-width="1.3" stroke-dasharray="8.0 1.8 1.1 2.1 1.1 1.8"/>
<text id="BL0" class="lg" textLength="163.87" lengthAdjust="spacingAndGlyphs" x="327.20" y="666.30" xml:space="preserve">NSG-Tg(hu-mSCF)  No irradiation</text>
<text id="BL1" class="lg" textLength="162.45" lengthAdjust="spacingAndGlyphs" x="327.20" y="679.40" xml:space="preserve">NSG-Tg(hu-mSCF) No irradiation</text>
<text id="BL2" class="lg" textLength="136.95" lengthAdjust="spacingAndGlyphs" x="327.20" y="692.40" xml:space="preserve">NSG-Tg(hu-mSCF) 100 cGy</text>
<text id="BL3" class="lg" textLength="136.95" lengthAdjust="spacingAndGlyphs" x="327.20" y="705.50" xml:space="preserve">NSG-Tg(hu-mSCF) 100 cGy</text>
<text id="BL4" class="lg" textLength="69.34" lengthAdjust="spacingAndGlyphs" x="327.20" y="718.80" xml:space="preserve">NSG, 100 cGy</text>
<text id="BL5" class="lg" textLength="69.34" lengthAdjust="spacingAndGlyphs" x="327.20" y="731.50" xml:space="preserve">NSG, 100 cGy</text>
</svg>
</body></html>
